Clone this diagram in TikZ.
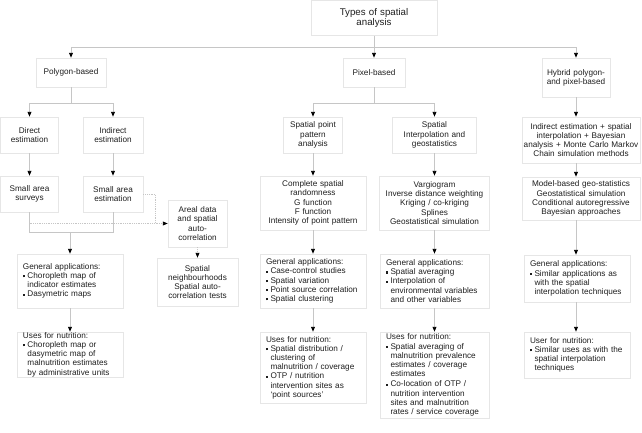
\documentclass[tikz,border=0pt]{standalone}
\usepackage{fontspec}
\setmainfont{Liberation Sans}
\usetikzlibrary{arrows.meta}
\definecolor{boxgrey}{HTML}{E6E6E6}
\definecolor{linegrey}{HTML}{C6C6C6}
\definecolor{txt}{HTML}{1E1E1E}
\newcommand{\sqb}{\makebox[4.5pt][l]{\rule[0.25ex]{2.2pt}{2.2pt}}}
\newcommand{\hang}{\hspace*{4.5pt}}
\begin{document}
\begin{tikzpicture}[x=1pt,y=-1pt,
    box/.style={draw=boxgrey, line width=0.6pt, inner sep=0pt, align=center, text=txt,
      font=\fontsize{8.2}{9.2}\selectfont},
    lbox/.style={box, align=left, inner xsep=6pt},
    con/.style={draw=linegrey, line width=0.8pt},
    arr/.style={con, -{Triangle[length=4.8pt,width=3.8pt,color=black,fill=black]}},
    dotline/.style={con, densely dotted},
    dotarr/.style={arr, densely dotted}]
  \useasboundingbox (0,0) rectangle (642,432);

  % top level
  \node[box, minimum width=126pt, minimum height=35pt, text width=126pt,
    font=\fontsize{9.7}{10.5}\selectfont] (types) at (374,17.8) {Types of spatial\\analysis};
  \node[box, minimum width=70pt, minimum height=29pt, text width=70pt] (poly) at (71,72.5) {Polygon-based};
  \node[box, minimum width=62pt, minimum height=29pt, text width=62pt] (pix) at (374,72.5) {Pixel-based};
  \node[box, minimum width=68pt, minimum height=39pt, text width=68pt] (hyb) at (576,77.5) {Hybrid polygon-\\and pixel-based};

  % polygon-based
  \node[box, minimum width=58pt, minimum height=36pt, text width=58pt] (direct) at (29.5,135) {Direct\\estimation};
  \node[box, minimum width=60pt, minimum height=36pt, text width=60pt] (indirect) at (113,135) {Indirect\\estimation};
  \node[box, minimum width=58pt, minimum height=36pt, text width=58pt] (sas) at (29.5,194) {Small area\\surveys};
  \node[box, minimum width=60pt, minimum height=36pt, text width=60pt] (sae) at (113,194) {Small area\\estimation};
  \node[box, minimum width=59pt, minimum height=47pt, text width=59pt] (areal) at (197.5,223.5)
    {Areal data\\and spatial\\auto-\\correlation};
  \node[box, minimum width=81pt, minimum height=48pt, text width=81pt] (spneigh) at (197.5,282)
    {Spatial\\neighbourhoods\\Spatial auto-\\correlation tests};
  \node[lbox, minimum width=106pt, minimum height=54pt, text width=94pt] (polygen) at (70,281)
    {General applications:\\\sqb Choropleth map of\\\hang indicator estimates\\\sqb Dasymetric maps};
  \node[lbox, minimum width=106pt, minimum height=45pt, text width=94pt] (polyuse) at (70,354.5)
    {Uses for nutrition:\\\sqb Choropleth map or\\\hang dasymetric map of\\\hang malnutrition estimates\\\hang by administrative units};

  % pixel-based
  \node[box, minimum width=59pt, minimum height=36pt, text width=59pt] (sppa) at (313,135) {Spatial point\\pattern\\analysis};
  \node[box, minimum width=84pt, minimum height=36pt, text width=84pt] (spint) at (434.5,135) {Spatial\\Interpolation and\\geostatistics};
  \node[box, minimum width=106pt, minimum height=54pt, text width=106pt] (csr) at (313,203)
    {Complete spatial\\randomness\\G function\\F function\\Intensity of point pattern};
  \node[box, minimum width=110pt, minimum height=54pt, text width=110pt] (varg) at (434.5,203)
    {Vargiogram\\Inverse distance weighting\\Kriging / co-kriging\\Splines\\Geostatistical simulation};
  \node[lbox, minimum width=106pt, minimum height=54pt, text width=94pt] (ptgen) at (313,281)
    {General applications:\\\sqb Case-control studies\\\sqb Spatial variation\\\sqb Point source correlation\\\sqb Spatial clustering};
  \node[lbox, minimum width=109pt, minimum height=54pt, text width=97pt] (intgen) at (434.5,281)
    {General applications:\\\sqb Spatial averaging\\\sqb Interpolation of\\\hang environmental variables\\\hang and other variables};
  \node[lbox, minimum width=106pt, minimum height=71pt, text width=94pt] (ptuse) at (313,367.5)
    {Uses for nutrition:\\\sqb Spatial distribution /\\\hang clustering of\\\hang malnutrition / coverage\\\sqb OTP / nutrition\\\hang intervention sites as\\\hang `point sources'};
  \node[lbox, minimum width=109pt, minimum height=86pt, text width=97pt] (intuse) at (434.5,375)
    {Uses for nutrition:\\\sqb Spatial averaging of\\\hang malnutrition prevalence\\\hang estimates / coverage\\\hang estimates\\[1pt]\sqb Co-location of OTP /\\\hang nutrition intervention\\\hang sites and malnutrition\\\hang rates / service coverage};

  % hybrid
  \node[box, minimum width=118pt, minimum height=46pt, text width=118pt] (hind) at (581,140)
    {Indirect estimation + spatial\\interpolation + Bayesian\\analysis + Monte Carlo Markov\\Chain simulation methods};
  \node[box, minimum width=118pt, minimum height=43pt, text width=118pt] (hmod) at (581,198.5)
    {Model-based geo-statistics\\Geostatistical simulation\\Conditional autoregressive\\Bayesian approaches};
  \node[lbox, minimum width=106pt, minimum height=47pt, text width=94pt] (hgen) at (577,278.5)
    {General applications:\\\sqb Similar applications as\\\hang with the spatial\\\hang interpolation techniques};
  \node[lbox, minimum width=106pt, minimum height=46pt, text width=94pt] (huse) at (577,355)
    {User for nutrition:\\\sqb Similar uses as with the\\\hang spatial interpolation\\\hang techniques};

  % connectors from the top
  \coordinate (bus) at (374,47);
  \draw[con] (types.south) -- (types.south |- bus);
  \draw[con] (poly.north |- bus) -- (hyb.north |- bus);
  \foreach \n in {poly,pix,hyb}
    \draw[arr] (\n.north |- bus) -- (\n.north);

  % polygon branch
  \coordinate (pbus) at (71,103);
  \draw[con] (poly.south) -- (poly.south |- pbus);
  \draw[con] (direct.north |- pbus) -- (indirect.north |- pbus);
  \foreach \n in {direct,indirect}
    \draw[arr] (\n.north |- pbus) -- (\n.north);
  \draw[arr] (direct) -- (sas);
  \draw[arr] (indirect) -- (sae);
  \coordinate (sbus) at (70,232);
  \draw[con] (sas.south) -- (sas.south |- sbus) -- (sae.south |- sbus) -- (sae.south);
  \draw[arr] (polygen.north |- sbus) -- (polygen.north);
  \draw[arr] (polygen) -- (polyuse);
  \coordinate (djoin) at (155,223.5);
  \draw[dotline] (sae.east) -| (djoin);
  \draw[dotarr] (sas.south |- areal.west) -- (areal.west);
  \draw[dotarr] (areal) -- (spneigh);

  % pixel branch
  \coordinate (xbus) at (374,103);
  \draw[con] (pix.south) -- (pix.south |- xbus);
  \draw[con] (sppa.north |- xbus) -- (spint.north |- xbus);
  \foreach \n in {sppa,spint}
    \draw[arr] (\n.north |- xbus) -- (\n.north);
  \foreach \a/\b in {sppa/csr,csr/ptgen,ptgen/ptuse,spint/varg,varg/intgen,intgen/intuse}
    \draw[arr] (\a) -- (\b);

  % hybrid branch
  \foreach \a/\b in {hyb/hind,hind/hmod,hmod/hgen,hgen/huse}
    \draw[arr] (hyb.south |- \a.south) -- (hyb.south |- \b.north);
\end{tikzpicture}
\end{document}
